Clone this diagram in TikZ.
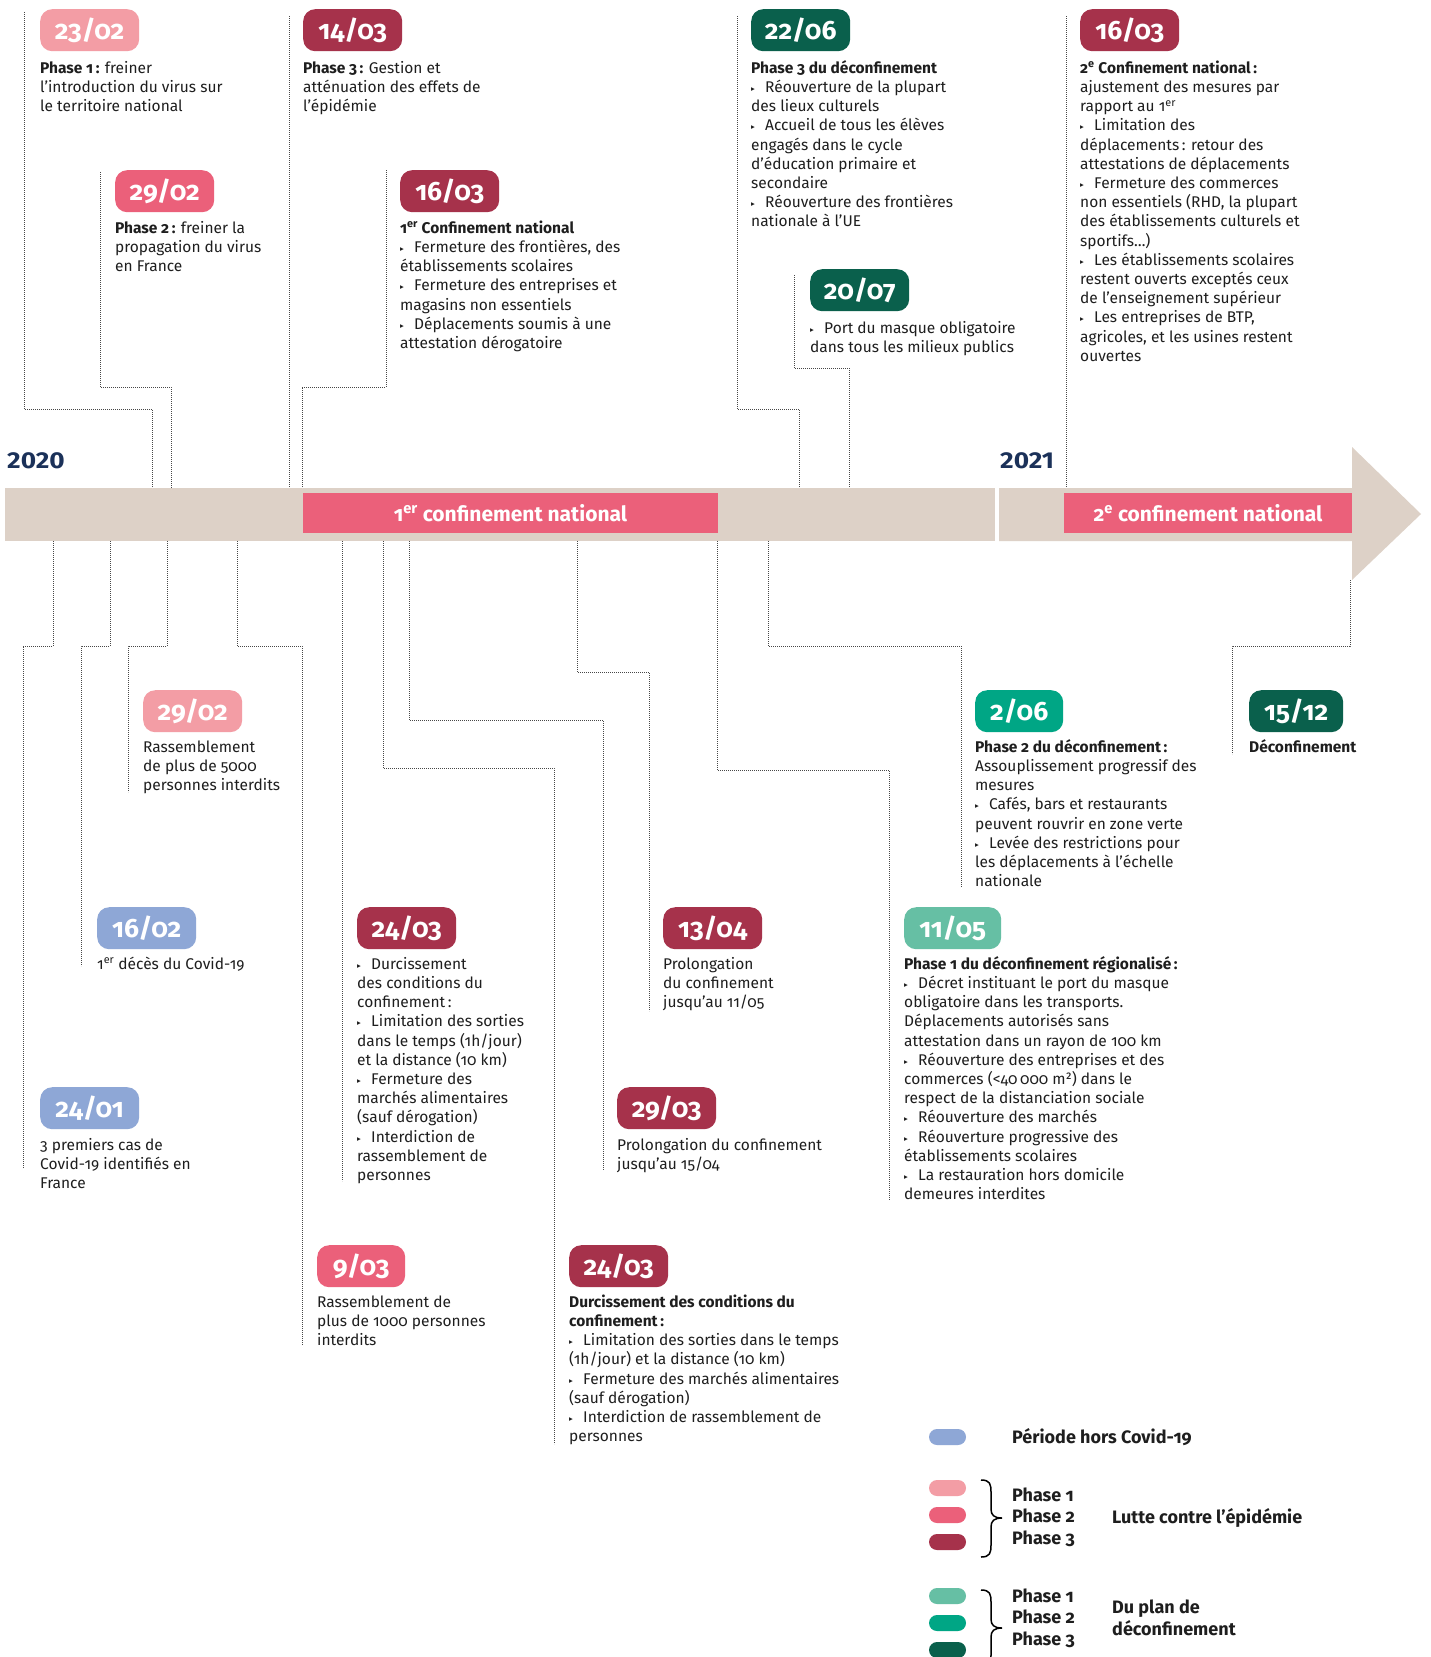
\documentclass[tikz,border=0pt]{standalone}
\usepackage{fontspec}
\setmainfont{Fira Sans}[Numbers=OldStyle]
\newfontfamily\yearfont{Fira Sans}[Numbers=Lining, FakeStretch=1.14]
\newfontfamily\dejavu{DejaVu Sans}
\definecolor{phA}{HTML}{F39DA5}
\definecolor{phB}{HTML}{EB607A}
\definecolor{phC}{HTML}{A6324B}
\definecolor{blueP}{HTML}{8EA7D6}
\definecolor{dgA}{HTML}{66BFA4}
\definecolor{dgB}{HTML}{00A685}
\definecolor{dgC}{HTML}{0A604C}
\definecolor{beige}{HTML}{DDD1C7}
\definecolor{navy}{HTML}{1B3159}
\definecolor{txtc}{HTML}{1E1E1E}
\newcommand\bul{\makebox[14pt][l]{\raisebox{1pt}{\dejavu\fontsize{7.5}{7.5}\selectfont ▸}}}
\newcommand\fl{\rule{0pt}{14pt}}
\tikzset{
  pill/.style={anchor=north west, rounded corners=12pt, minimum height=42pt, minimum width=99pt,
    inner sep=0pt, text=white, font=\bfseries\fontsize{26.5}{26.5}\selectfont},
  txt/.style={anchor=north west, inner sep=0pt, align=left, text=txtc,
    font=\fontsize{15.5}{19.2}\selectfont},
  conn/.style={draw=black!72, line width=0.8pt, dash pattern=on 0.9pt off 1.1pt},
  lgpill/.style={minimum width=37pt, minimum height=16pt, inner sep=0pt, rounded corners=8pt},
  lgtxt/.style={anchor=west, inner sep=0pt, align=left, text=txtc,
    font=\bfseries\fontsize{18}{21.5}\selectfont},
  yearlbl/.style={anchor=base west, inner sep=0pt, text=navy, font=\yearfont\bfseries\fontsize{23}{23}\selectfont},
  conflbl/.style={inner sep=0pt, text=white, font=\bfseries\fontsize{21}{21}\selectfont}
}
\begin{document}
\begin{tikzpicture}[x=1pt,y=-1pt]
\clip (0,0) rectangle (1431,1657);
\fill[white] (0,0) rectangle (1431,1657);

% ---------- connector end points ----------
\coordinate (t1s) at (24,12);   \coordinate (t1e) at (152,488);
\coordinate (t2s) at (100,172); \coordinate (t2e) at (171,488);
\coordinate (t3s) at (289,16);  \coordinate (t3e) at (289,488);
\coordinate (t4s) at (386,170); \coordinate (t4e) at (302,488);
\coordinate (t5s) at (737,16);  \coordinate (t5e) at (799,488);
\coordinate (t6s) at (794,275); \coordinate (t6e) at (849,488);
\coordinate (t7s) at (1066,16); \coordinate (t7e) at (1066,488);

\coordinate (b1s) at (53,541);   \coordinate (b1e) at (23,1168);
\coordinate (b2s) at (110,541);  \coordinate (b2e) at (81,966);
\coordinate (b3s) at (167,541);  \coordinate (b3e) at (128,792);
\coordinate (b4s) at (237,541);  \coordinate (b4e) at (302,1345);
\coordinate (b5s) at (342,541);  \coordinate (b5e) at (342,1181);
\coordinate (b6s) at (383,541);  \coordinate (b6e) at (554,1444);
\coordinate (b7s) at (409,541);  \coordinate (b7e) at (603,1170);
\coordinate (b8s) at (577,541);  \coordinate (b8e) at (649,1011);
\coordinate (b9s) at (717,541);  \coordinate (b9e) at (889,1200);
\coordinate (b10s) at (768,541); \coordinate (b10e) at (961,887);
\coordinate (b11s) at (1350,580);\coordinate (b11e) at (1232,754);

% ---------- connectors ----------
\draw[conn] (t1s) -- ++(0,397) -| (t1e);
\draw[conn] (t2s) -- ++(0,215) -| (t2e);
\draw[conn] (t3s) -- (t3e);
\draw[conn] (t4s) -- ++(0,217) -| (t4e);
\draw[conn] (t5s) -- ++(0,393) -| (t5e);
\draw[conn] (t6s) -- ++(0,93) -| (t6e);
\draw[conn] (t7s) -- (t7e);

\draw[conn] (b1s) -- ++(0,105) -| (b1e);
\draw[conn] (b2s) -- ++(0,105) -| (b2e);
\draw[conn] (b3s) -- ++(0,105) -| (b3e);
\draw[conn] (b4s) -- ++(0,105) -| (b4e);
\draw[conn] (b5s) -- (b5e);
\draw[conn] (b6s) -- ++(0,227) -| (b6e);
\draw[conn] (b7s) -- ++(0,179) -| (b7e);
\draw[conn] (b8s) -- ++(0,131) -| (b8e);
\draw[conn] (b9s) -- ++(0,229) -| (b9e);
\draw[conn] (b10s) -- ++(0,105) -| (b10e);
\draw[conn] (b11s) -- ++(0,66) -| (b11e);

% ---------- timeline bar ----------
\fill[beige] (5,488) rectangle (995,541);
\fill[beige] (999,488) -- (1352,488) -- (1352,447) -- (1421,514) -- (1352,580) -- (1352,541) -- (999,541) -- cycle;
\fill[phB] (303,493) rectangle (718,533);
\fill[phB] (1064,493) rectangle (1352,533);
\node[conflbl] (conf1) at (510.5,513) {1\textsuperscript{er} confinement national};
\node[conflbl] (conf2) at (1208,513) {2\textsuperscript{e} confinement national};
\node[yearlbl] (y2020) at (7,468) {2020};
\node[yearlbl] (y2021) at (1000,468) {2021};

% ---------- pills ----------
\node[pill, fill=phA] (p2302) at (40,9) {23/02};
\node[pill, fill=phC] (p1403) at (303,9) {14/03};
\node[pill, fill=dgC] (p2206) at (751,9) {22/06};
\node[pill, fill=phC] (p1603b) at (1080,9) {16/03};
\node[pill, fill=phB] (p2902a) at (115,170) {29/02};
\node[pill, fill=phC] (p1603a) at (400,170) {16/03};
\node[pill, fill=dgC] (p2007) at (810,269) {20/07};

\node[pill, fill=phA] (p2902b) at (143,690) {29/02};
\node[pill, fill=dgB, minimum width=88pt] (p0206) at (975,690) {2/06};
\node[pill, fill=dgC, minimum width=94pt] (p1512) at (1249,690) {15/12};
\node[pill, fill=blueP] (p1602) at (97,907) {16/02};
\node[pill, fill=phC] (p2403a) at (357,907) {24/03};
\node[pill, fill=phC] (p1304) at (663,907) {13/04};
\node[pill, fill=dgA, minimum width=97pt] (p1105) at (904,907) {11/05};
\node[pill, fill=blueP] (p2401) at (40,1087) {24/01};
\node[pill, fill=phC] (p2903) at (617,1087) {29/03};
\node[pill, fill=phB, minimum width=88pt] (p0903) at (317,1245) {9/03};
\node[pill, fill=phC] (p2403b) at (569,1245) {24/03};

% ---------- texts ----------
\node[txt] (x2302) at (40,59) {\fl\textbf{Phase 1\,:} freiner\\l’introduction du virus sur\\le territoire national};
\node[txt] (x1403) at (303,59) {\fl\textbf{Phase 3\,:} Gestion et\\atténuation des effets de\\l’épidémie};
\node[txt] (x2902a) at (115,219) {\fl\textbf{Phase 2\,:} freiner la\\propagation du virus\\en France};
\node[txt] (x1603a) at (400,219) {\fl\textbf{1\textsuperscript{er} Confinement national}\\\bul Fermeture des frontières, des\\établissements scolaires\\\bul Fermeture des entreprises et\\magasins non essentiels\\\bul Déplacements soumis à une\\attestation dérogatoire};
\node[txt] (x2206) at (751,59) {\fl\textbf{Phase 3 du déconfinement}\\\bul Réouverture de la plupart\\des lieux culturels\\\bul Accueil de tous les élèves\\engagés dans le cycle\\d’éducation primaire et\\secondaire\\\bul Réouverture des frontières\\nationale à l’UE};
\node[txt] (x2007) at (810,319) {\fl\bul Port du masque obligatoire\\dans tous les milieux publics};
\node[txt] (x1603b) at (1080,59) {\fl\textbf{2\textsuperscript{e} Confinement national\,:}\\ajustement des mesures par\\rapport au 1\textsuperscript{er}\\\bul Limitation des\\déplacements\,: retour des\\attestations de déplacements\\\bul Fermeture des commerces\\non essentiels (RHD, la plupart\\des établissements culturels et\\sportifs…)\\\bul Les établissements scolaires\\restent ouverts exceptés ceux\\de l’enseignement supérieur\\\bul Les entreprises de BTP,\\agricoles, et les usines restent\\ouvertes};

\node[txt] (x2902b) at (143,738) {\fl Rassemblement\\de plus de 5000\\personnes interdits};
\node[txt] (x0206) at (975,738) {\fl\textbf{Phase 2 du déconfinement\,:}\\Assouplissement progressif des\\mesures\\\bul Cafés, bars et restaurants\\peuvent rouvrir en zone verte\\\bul Levée des restrictions pour\\les déplacements à l’échelle\\nationale};
\node[txt] (x1512) at (1249,738) {\fl\textbf{Déconfinement}};
\node[txt] (x1602) at (97,955) {\fl 1\textsuperscript{er} décès du Covid-19};
\node[txt] (x2403a) at (357,955) {\fl\bul Durcissement\\des conditions du\\confinement\,:\\\bul Limitation des sorties\\dans le temps (1h/jour)\\et la distance (10 km)\\\bul Fermeture des\\marchés alimentaires\\(sauf dérogation)\\\bul Interdiction de\\rassemblement de\\personnes};
\node[txt] (x1304) at (663,955) {\fl Prolongation\\du confinement\\jusqu’au 11/05};
\node[txt] (x1105) at (904,955) {\fl\textbf{Phase 1 du déconfinement régionalisé\,:}\\\bul Décret instituant le port du masque\\obligatoire dans les transports.\\Déplacements autorisés sans\\attestation dans un rayon de 100 km\\\bul Réouverture des entreprises et des\\commerces (<40\,000 m²) dans le\\respect de la distanciation sociale\\\bul Réouverture des marchés\\\bul Réouverture progressive des\\établissements scolaires\\\bul La restauration hors domicile\\demeures interdites};
\node[txt] (x2401) at (40,1136) {\fl 3 premiers cas de\\Covid-19 identifiés en\\France};
\node[txt] (x2903) at (617,1136) {\fl Prolongation du confinement\\jusqu’au 15/04};
\node[txt] (x0903) at (317,1293) {\fl Rassemblement de\\plus de 1000 personnes\\interdits};
\node[txt] (x2403b) at (569,1293) {\fl\textbf{Durcissement des conditions du}\\\textbf{confinement\,:}\\\bul Limitation des sorties dans le temps\\(1h/jour) et la distance (10 km)\\\bul Fermeture des marchés alimentaires\\(sauf dérogation)\\\bul Interdiction de rassemblement de\\personnes};

% ---------- legend ----------
\node[lgpill, fill=blueP] (lg0) at (947.5,1437) {};
\node[lgpill, fill=phA] (lg1) at (947.5,1488) {};
\node[lgpill, fill=phB] (lg2) at (947.5,1515) {};
\node[lgpill, fill=phC] (lg3) at (947.5,1542) {};
\node[lgpill, fill=dgA] (lg4) at (947.5,1596) {};
\node[lgpill, fill=dgB] (lg5) at (947.5,1623) {};
\node[lgpill, fill=dgC] (lg6) at (947.5,1650) {};
\node[lgtxt] (lgt0) at (1012,1437) {Période hors Covid-19};
\node[lgtxt] (lgt1) at (1012,1517) {Phase 1\\Phase 2\\Phase 3};
\node[lgtxt] (lgt2) at (1112,1518) {Lutte contre l’épidémie};
\node[lgtxt] (lgt3) at (1012,1618) {Phase 1\\Phase 2\\Phase 3};
\node[lgtxt] (lgt4) at (1112,1618) {Du plan de\\déconfinement};
\draw[line width=1.5pt, black] (981,1480) .. controls (990,1480) and (991,1484) .. (991,1492) -- (991,1509) .. controls (991,1515) and (994,1518) .. (1002,1518) .. controls (994,1518) and (991,1521) .. (991,1527) -- (991,1545) .. controls (991,1553) and (990,1557) .. (981,1557);
\draw[line width=1.5pt, black] (981,1590) .. controls (990,1590) and (991,1594) .. (991,1602) -- (991,1619) .. controls (991,1625) and (994,1628) .. (1002,1628) .. controls (994,1628) and (991,1631) .. (991,1637) -- (991,1655) .. controls (991,1663) and (990,1667) .. (981,1667);
\end{tikzpicture}
\end{document}
